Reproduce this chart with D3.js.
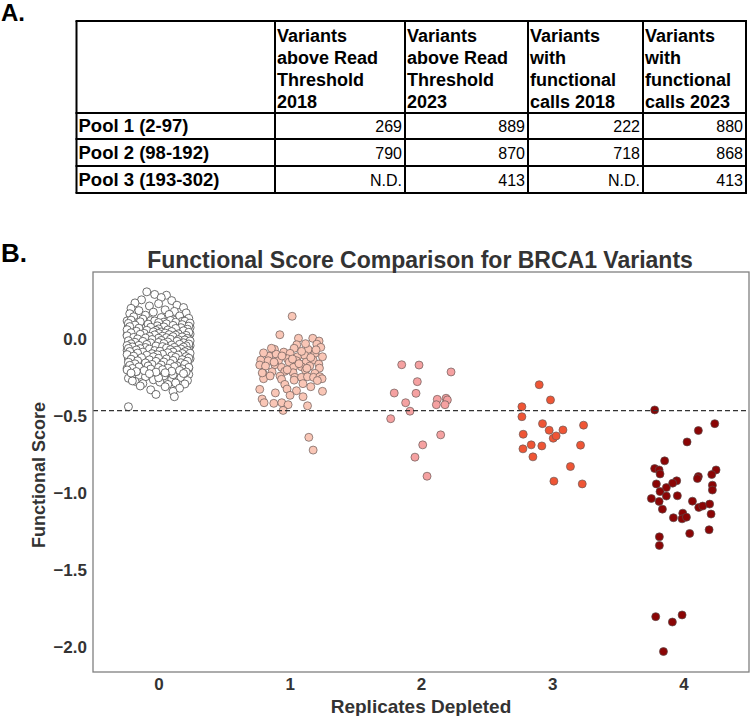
<!DOCTYPE html>
<html><head><meta charset="utf-8">
<script src="https://cdn.jsdelivr.net/npm/d3@7"></script>
<style>body{margin:0;background:#fff}svg{display:block}</style>
</head><body>
<svg id="c" width="750" height="716"></svg>
<script>
// ---------------- DATA ----------------
// Table (panel A)
const tableHeaders = [
  ["Variants","above Read","Threshold","2018"],
  ["Variants","above Read","Threshold","2023"],
  ["Variants","with","functional","calls 2018"],
  ["Variants","with","functional","calls 2023"]
];
const pools = ["Pool 1 (2-97)","Pool 2 (98-192)","Pool 3 (193-302)"];
const readThreshold2018 = [269, 790, null];
const readThreshold2023 = [889, 870, 413];
const functionalCalls2018 = [222, 718, null];
const functionalCalls2023 = [880, 868, 413];

// Strip plot (panel B)
const categories = [0,1,2,3,4];
const xTickLabels = ["0","1","2","3","4"];
const yTickValues = [0.0,-0.5,-1.0,-1.5,-2.0];
const threshold = -0.466;
// each point: [functional score, horizontal jitter in category units]
const rep0 = [
[0.307,-0.09],[0.285,0.06],[0.29,-0.03],[0.27,0.02],[0.255,-0.13],[0.25,0.10],[0.235,-0.18],[0.23,0.0],[0.22,0.14],[0.215,-0.07],[0.205,0.19],[0.2,-0.21],
[0.19,0.05],[0.185,-0.15],[0.18,0.12],[0.175,-0.04],[0.17,0.21],[0.165,-0.22],[0.16,0.08],[0.155,-0.10],[0.15,0.16],[0.145,-0.19],[0.14,0.02],[0.135,0.23],[0.13,-0.12],[0.125,0.11],[0.12,-0.06],[0.118,-0.24],[0.115,0.18],[0.11,0.04],[0.105,-0.17],[0.10,0.14],[0.10,-0.02],[0.095,0.22],[0.09,-0.09],[0.088,0.07],[0.085,-0.23],
[0.082,0.15],[0.08,-0.14],[0.078,0.01],[0.075,0.24],[0.073,-0.20],[0.07,0.09],[0.068,-0.05],[0.065,0.19],[0.062,-0.11],[0.06,0.03],
[0.058,-0.23],[0.055,0.13],[0.053,-0.02],[0.05,0.21],[0.048,-0.16],[0.045,0.06],[0.043,-0.08],[0.04,0.17],[0.038,-0.19],[0.035,0.0],
[0.033,0.24],[0.03,-0.12],[0.028,0.10],[0.025,-0.04],[0.023,0.20],[0.02,-0.22],[0.018,0.05],[0.015,-0.09],[0.013,0.15],[0.01,-0.15],
[0.008,0.02],[0.005,0.23],[0.003,-0.06],[0.0,0.12],[-0.002,-0.21],[0.097,0.01],[0.092,-0.18],[0.087,0.19],[0.067,0.11],[0.057,-0.13],
[0.047,0.22],[0.037,-0.01],[0.027,-0.24],[0.017,0.16],[0.007,-0.07],[0.052,0.08],[0.032,0.18],[0.012,-0.17],[0.072,-0.10],[0.042,0.04],
[-0.005,0.07],[-0.008,-0.13],[-0.01,0.18],[-0.013,-0.03],[-0.015,0.22],[-0.018,-0.19],[-0.02,0.10],[-0.023,-0.08],[-0.025,0.15],[-0.028,-0.23],
[-0.03,0.03],[-0.033,0.20],[-0.035,-0.11],[-0.038,0.08],[-0.04,-0.01],[-0.043,0.24],[-0.045,-0.16],[-0.048,0.13],[-0.05,-0.05],[-0.053,0.17],
[-0.055,-0.21],[-0.058,0.01],[-0.06,0.11],[-0.063,-0.09],[-0.065,0.21],[-0.068,-0.14],[-0.07,0.05],[-0.073,-0.24],[-0.075,0.16],[-0.078,-0.03],
[-0.08,0.23],[-0.083,-0.18],[-0.085,0.09],[-0.088,-0.07],[-0.09,0.14],[-0.093,-0.12],[-0.095,0.02],[-0.098,0.19],[-0.012,0.12],[-0.022,-0.15],
[-0.032,-0.20],[-0.042,0.06],[-0.052,0.23],[-0.062,-0.02],[-0.072,0.12],[-0.082,0.0],[-0.092,-0.22],[-0.027,0.09],[-0.047,-0.09],[-0.067,0.19],
[-0.087,0.04],[-0.037,-0.17],[-0.057,0.15],[-0.077,-0.10],[-0.097,0.22],
[-0.1,-0.04],[-0.103,0.12],[-0.105,-0.20],[-0.108,0.06],[-0.11,0.21],[-0.113,-0.10],[-0.115,0.01],[-0.118,0.17],[-0.12,-0.15],[-0.123,0.09],
[-0.125,-0.06],[-0.128,0.24],[-0.13,-0.23],[-0.133,0.04],[-0.135,0.14],[-0.138,-0.12],[-0.14,-0.01],[-0.143,0.20],[-0.145,-0.18],[-0.148,0.08],
[-0.15,-0.08],[-0.153,0.16],[-0.155,0.02],[-0.158,-0.22],[-0.16,0.11],[-0.163,-0.05],[-0.165,0.22],[-0.168,-0.14],[-0.17,0.06],[-0.173,-0.02],
[-0.175,0.18],[-0.178,-0.19],[-0.18,0.10],[-0.183,-0.09],[-0.185,0.0],[-0.188,0.23],[-0.19,-0.24],[-0.193,0.13],[-0.195,-0.11],[-0.198,0.05],
[-0.107,-0.13],[-0.127,0.19],[-0.147,-0.03],[-0.167,0.15],[-0.187,-0.16],
[-0.2,0.19],[-0.205,-0.07],[-0.21,0.08],[-0.215,-0.21],[-0.22,0.14],[-0.225,-0.01],[-0.23,0.23],[-0.235,-0.15],[-0.24,0.04],[-0.245,-0.10],
[-0.25,0.17],[-0.255,-0.23],[-0.26,0.10],[-0.265,-0.04],[-0.27,0.22],[-0.275,-0.18],[-0.28,0.01],[-0.285,0.13],[-0.29,-0.12],[-0.295,0.07],
[-0.212,-0.17],[-0.232,0.11],[-0.252,0.0],[-0.272,-0.20],[-0.292,0.20],
[-0.305,-0.14],[-0.31,0.05],[-0.32,0.16],[-0.33,-0.06],[-0.34,0.11],[-0.375,0.12],[-0.36,-0.02],[-0.44,-0.23],
[0.123,-0.21],[0.118,-0.03],[0.121,0.09],[0.116,0.20],
[0.112,-0.14],[0.107,0.0],[0.109,0.13],[0.104,0.24],
[0.102,-0.23],[0.097,-0.08],[0.099,0.06],[0.094,0.18],
[0.091,-0.18],[0.086,-0.01],[0.089,0.11],[0.084,0.23],
[0.081,-0.22],[0.077,-0.06],[0.079,0.04],[0.074,0.17],
[0.071,-0.15],[0.066,0.0],[0.069,0.13],[0.064,0.22],
[0.061,-0.24],[0.057,-0.09],[0.059,0.07],[0.054,0.19],[0.056,-0.02],
[0.051,-0.17],[0.047,-0.04],[0.049,0.10],[0.044,0.23],[0.046,0.02],
[0.041,-0.21],[0.037,-0.11],[0.039,0.05],[0.034,0.15],[0.036,0.0],
[0.031,-0.14],[0.027,-0.03],[0.029,0.08],[0.024,0.21],[0.026,0.13],
[0.021,-0.24],[0.017,-0.07],[0.019,0.03],[0.014,0.18],[0.016,0.11],
[0.011,-0.19],[0.007,-0.10],[0.009,0.06],[0.004,0.22],[0.006,0.0],
[0.001,-0.16],[-0.003,-0.05],[-0.001,0.09],[-0.006,0.20],[-0.004,0.15],
[-0.011,-0.23],[-0.015,-0.12],[-0.009,0.02],[-0.014,0.14],[-0.012,0.24],
[-0.021,-0.18],[-0.025,-0.06],[-0.019,0.07],[-0.024,0.19],[-0.022,0.0],
[-0.031,-0.21],[-0.035,-0.09],[-0.029,0.04],[-0.034,0.16],[-0.032,0.23],
[-0.041,-0.15],[-0.045,-0.02],[-0.039,0.10],[-0.044,0.21],[-0.042,-0.24],
[-0.051,-0.20],[-0.055,-0.10],[-0.049,0.03],[-0.054,0.12],[-0.052,0.19],
[-0.061,-0.23],[-0.065,-0.07],[-0.059,0.06],[-0.064,0.17],[-0.062,-0.14],
[-0.071,-0.17],[-0.075,-0.03],[-0.069,0.09],[-0.074,0.22],[-0.072,0.14],
[-0.081,-0.22],[-0.085,-0.12],[-0.079,0.01],[-0.084,0.11],[-0.082,0.20],
[-0.091,-0.16],[-0.095,-0.05],[-0.089,0.07],[-0.094,0.18],[-0.092,0.24],
[-0.101,-0.24],[-0.105,-0.09],[-0.099,0.03],[-0.104,0.15],[-0.102,-0.01],
[-0.111,-0.19],[-0.115,-0.04],[-0.109,0.10],[-0.114,0.21],
[-0.121,-0.13],[-0.125,0.0],[-0.119,0.13],[-0.124,0.23],
[-0.131,-0.21],[-0.135,-0.07],[-0.129,0.06],[-0.134,0.18],
[-0.141,-0.16],[-0.145,-0.02],[-0.139,0.11],[-0.144,0.22],
[-0.151,-0.23],[-0.155,-0.10],[-0.149,0.04],[-0.154,0.17],
[-0.161,-0.18],[-0.165,-0.05],[-0.159,0.09],[-0.164,0.20],
[-0.171,-0.22],[-0.175,-0.08],[-0.169,0.02],[-0.174,0.14],
[-0.181,-0.15],[-0.185,0.0],[-0.179,0.12],[-0.184,0.23],
[-0.191,-0.20],[-0.195,-0.06],[-0.189,0.07],[-0.194,0.18],
[-0.201,-0.24],[-0.205,-0.11],[-0.199,0.03],[-0.204,0.16],
[-0.211,-0.17],[-0.215,-0.02],[-0.209,0.10],[-0.214,0.21],
[-0.221,-0.21],[-0.225,-0.07],[-0.219,0.05],[-0.224,0.19]
];
const rep1 = [
[0.148,0.018],[0.028,-0.076],[0.005,0.066],[0.005,0.175],[-0.013,0.223],[-0.037,0.053],[-0.033,0.206],[-0.054,0.236],[-0.067,-0.117],[-0.060,0.033],
[-0.067,0.139],[-0.085,-0.046],[-0.093,0.002],[-0.111,-0.158],[-0.098,-0.104],[-0.115,0.059],[-0.106,0.114],[-0.093,0.191],[-0.115,0.249],[-0.137,-0.221],
[-0.141,-0.165],[-0.141,-0.086],[-0.128,-0.018],[-0.141,0.051],[-0.150,0.124],[-0.137,0.178],[-0.163,0.221],[-0.169,-0.229],[-0.176,-0.185],[-0.167,-0.114],
[-0.150,-0.005],[-0.184,-0.063],[-0.184,0.028],[-0.180,0.089],[-0.176,0.152],[-0.189,0.226],[-0.213,-0.135],[-0.210,-0.038],[-0.219,0.025],[-0.202,0.120],
[-0.223,0.191],[-0.223,-0.204],[-0.241,-0.074],[-0.249,0.038],[-0.249,0.089],[-0.245,0.135],[-0.249,0.181],[-0.245,0.229],[-0.258,0.246],[-0.258,-0.200],
[-0.262,-0.063],[-0.267,0.033],[-0.295,-0.038],[-0.327,-0.229],[-0.325,-0.021],[-0.336,0.051],[-0.340,0.249],[-0.366,0.002],[-0.375,0.101],[-0.390,-0.211],
[-0.414,-0.196],[-0.418,-0.122],[-0.414,-0.061],[-0.427,-0.013],[-0.464,-0.051],[-0.434,0.135],[-0.639,0.145],[-0.722,0.178],
[-0.09,-0.20],[-0.12,0.16],[-0.20,-0.02],[-0.16,0.07],[-0.07,0.20],[-0.24,-0.15],[-0.11,-0.06],[-0.19,0.13],[-0.06,-0.14],[-0.29,0.10],
[-0.03,0.12],[-0.27,0.21],[-0.13,0.02],[-0.22,-0.21],[-0.31,0.16],[-0.15,-0.12],[-0.08,0.09],[-0.35,-0.11]
];
const rep2 = [
[-0.167,-0.147],[-0.169,-0.015],[-0.214,0.229],[-0.277,-0.028],[-0.351,-0.204],[-0.353,-0.038],[-0.414,-0.117],[-0.392,0.124],[-0.385,0.191],
[-0.396,0.201],[-0.427,0.117],[-0.427,0.183],[-0.469,-0.084],[-0.518,-0.231],[-0.623,0.150],[-0.688,0.013],[-0.768,-0.046],[-0.892,0.046]
];
const rep3 = [
[-0.297,-0.099],[-0.396,-0.013],[-0.440,-0.231],[-0.505,-0.231],[-0.550,-0.074],[-0.593,-0.023],[-0.591,0.082],[-0.560,0.239],[-0.619,-0.221],
[-0.645,0.008],[-0.630,0.030],[-0.688,-0.160],[-0.695,-0.079],[-0.714,-0.223],[-0.690,0.216],[-0.766,-0.147],[-0.829,0.139],[-0.924,0.013],[-0.942,0.229]
];
const rep4 = [
[-0.461,-0.219],[-0.550,0.239],[-0.595,0.114],[-0.669,0.028],[-0.792,-0.143],[-0.842,-0.219],[-0.851,-0.185],[-0.877,-0.178],[-0.851,0.249],[-0.881,0.216],
[-0.894,0.114],[-0.907,0.107],[-0.922,-0.051],[-0.937,-0.082],[-0.942,-0.206],[-0.966,-0.130],[-0.950,0.221],[-0.982,0.221],[-0.992,-0.178],[-1.037,-0.244],
[-1.056,-0.185],[-1.021,-0.130],[-1.019,-0.046],[-1.054,0.069],[-1.095,0.117],[-1.086,0.147],[-1.073,0.200],[-1.106,-0.160],[-1.132,-0.005],[-1.162,-0.076],
[-1.169,-0.010],[-1.158,0.023],[-1.138,0.211],[-1.240,0.196],[-1.264,0.048],[-1.286,-0.183],[-1.342,-0.183],[-1.805,-0.211],[-1.840,-0.084],[-1.794,-0.010],
[-2.032,-0.152]
];
const groups = [rep0, rep1, rep2, rep3, rep4];

// ---------------- DRAW ----------------
const FONT = "'Liberation Sans', Arial, Helvetica, sans-serif";
const svg = d3.select("#c");

// Panel labels
svg.append("text").attr("x",1).attr("y",21).attr("font-family",FONT).attr("font-weight","bold")
  .attr("font-size",24).attr("fill","#000").text("A.");
svg.append("text").attr("x",1).attr("y",262).attr("font-family",FONT).attr("font-weight","bold")
  .attr("font-size",26).attr("fill","#000").text("B.");

// Table
const colEdges = [76.5, 275, 405, 528, 643, 746];
const rowEdges = [21, 113, 139, 166, 193];
const tg = svg.append("g");
colEdges.forEach(cx => tg.append("line").attr("x1",cx).attr("x2",cx).attr("y1",rowEdges[0]).attr("y2",rowEdges[rowEdges.length-1])
  .attr("stroke","#000").attr("stroke-width",2));
rowEdges.forEach(ry => tg.append("line").attr("x1",colEdges[0]-1).attr("x2",colEdges[colEdges.length-1]+1).attr("y1",ry).attr("y2",ry)
  .attr("stroke","#000").attr("stroke-width",2));
tableHeaders.forEach((lines,i) => {
  lines.forEach((ln,k) => {
    tg.append("text").attr("x",colEdges[i+1]+2).attr("y",42+k*22).attr("font-family",FONT)
      .attr("font-weight","bold").attr("font-size",18).attr("fill","#000").text(ln);
  });
});
const cols = [readThreshold2018, readThreshold2023, functionalCalls2018, functionalCalls2023];
pools.forEach((p,r) => {
  const base = rowEdges[r+2] - 7;
  tg.append("text").attr("x",colEdges[0]+2).attr("y",base).attr("font-family",FONT)
    .attr("font-weight","bold").attr("font-size",18.5).attr("fill","#000").text(p);
  cols.forEach((col,c) => {
    tg.append("text").attr("x",colEdges[c+2]-3).attr("y",base).attr("font-family",FONT)
      .attr("font-size",16).attr("text-anchor","end").attr("fill","#000")
      .text(col[r] === null ? "N.D." : col[r]);
  });
});

// Plot
const L = 93, R = 749, T = 272, B = 672;
const x = d3.scaleLinear().domain([-0.5, 4.5]).range([L, R]);
const y = d3.scaleLinear().domain([-2.165, 0.436]).range([B, T]);
const fills = ["#ffffff", "#f9c6b6", "#f5a1a1", "#ef5535", "#8b0505"];
const strokes = ["#4a4a4a", "#6a5a58", "#6a5a58", "#6a5a58", "#5a4a4a"];
const strokeWidths = [0.8, 0.7, 0.7, 0.7, 0.7];

groups.forEach((g,gi) => {
  svg.append("g").selectAll("circle").data(g).join("circle")
    .attr("cx", d => x(categories[gi] + d[1]))
    .attr("cy", d => y(d[0]))
    .attr("r", 4)
    .attr("fill", fills[gi])
    .attr("stroke", strokes[gi])
    .attr("stroke-width", strokeWidths[gi]);
});

svg.append("line").attr("x1",L).attr("x2",R).attr("y1",y(threshold)).attr("y2",y(threshold))
  .attr("stroke","#333").attr("stroke-width",1.3).attr("stroke-dasharray","5,3");

svg.append("rect").attr("x",L).attr("y",T).attr("width",R-L).attr("height",B-T)
  .attr("fill","none").attr("stroke","#808080").attr("stroke-width",1.3);

const yAxis = svg.append("g").attr("transform",`translate(${L},0)`)
  .call(d3.axisLeft(y).tickValues(yTickValues).tickSize(0).tickPadding(6).tickFormat(d3.format(".1f")));
const xAxis = svg.append("g").attr("transform",`translate(0,${B})`)
  .call(d3.axisBottom(x).tickValues(categories).tickSize(0).tickPadding(6).tickFormat((d,i)=>xTickLabels[i]));
[yAxis, xAxis].forEach(a => {
  a.select(".domain").remove();
  a.selectAll("text").attr("font-family",FONT).attr("font-weight","bold").attr("font-size",17).attr("fill","#333");
});

svg.append("text").attr("x",420).attr("y",268).attr("text-anchor","middle").attr("font-family",FONT)
  .attr("font-weight","bold").attr("font-size",23).attr("fill","#333")
  .text("Functional Score Comparison for BRCA1 Variants");
svg.append("text").attr("x",421).attr("y",713).attr("text-anchor","middle").attr("font-family",FONT)
  .attr("font-weight","bold").attr("font-size",19).attr("fill","#333").text("Replicates Depleted");
svg.append("text").attr("transform","translate(45,475) rotate(-90)").attr("text-anchor","middle").attr("font-family",FONT)
  .attr("font-weight","bold").attr("font-size",18).attr("fill","#333").text("Functional Score");
</script>
</body></html>
